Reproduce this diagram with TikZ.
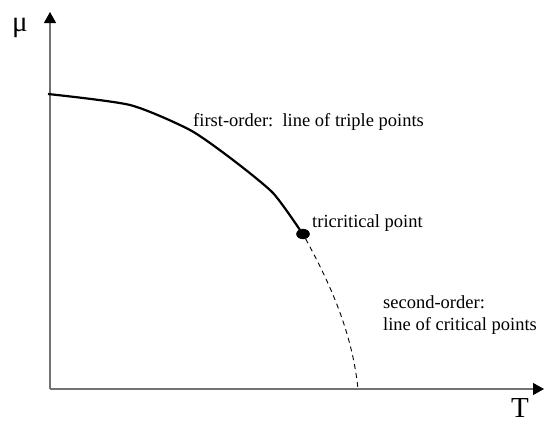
\documentclass[tikz,border=0pt]{standalone}
\usepackage{fontspec}
\setmainfont{Liberation Serif}
\usetikzlibrary{arrows.meta, shapes.geometric}

\begin{document}
\begin{tikzpicture}[x=1pt, y=-1pt, font=\fontsize{18.5}{22}\selectfont,
  axis/.style={draw=gray!90!black, line width=1.2pt, -{Triangle[length=11pt, width=12pt, color=black]}},
  txt/.style={anchor=base west, inner sep=0pt},
  biglab/.style={anchor=base west, inner sep=0pt, font=\fontsize{29}{32}\selectfont}]
  \useasboundingbox (0,0) rectangle (545,423);
  % axes
  \coordinate (o) at (50,389);
  \coordinate (ytop) at (50,12);
  \coordinate (xend) at (544,389);
  \draw[axis] (o) -- (ytop);
  \draw[axis] (o) -- (xend);
  \node[biglab] (mu) at (12,31) {μ};
  \node[biglab] (T) at (511,417) {T};
  % tricritical point
  \node[draw, fill=black, ellipse, minimum width=13pt, minimum height=10pt, inner sep=0pt] (tcp) at (303,234) {};
  \coordinate (mu0) at (48,94);
  \coordinate (tc) at (358,389);
  % first-order line
  \draw[line width=2.2pt] plot[smooth, tension=0.4] coordinates {(48,94) (130,105) (190,130) (233,160) (273,193) (300,230)};
  % second-order line
  \draw[dashed, line width=0.9pt, dash pattern=on 5pt off 4pt] (tcp) .. controls (328,280) and (352,330) .. (tc);
  \node[txt] (first) at (193,126) {first-order:\ \ line of triple points};
  \node[txt] (tri) at (312,227) {tricritical point};
  \node[txt] (second) at (383,308) {second-order:};
  \node[txt] (crit) at (383,330) {line of critical points};
\end{tikzpicture}
\end{document}
